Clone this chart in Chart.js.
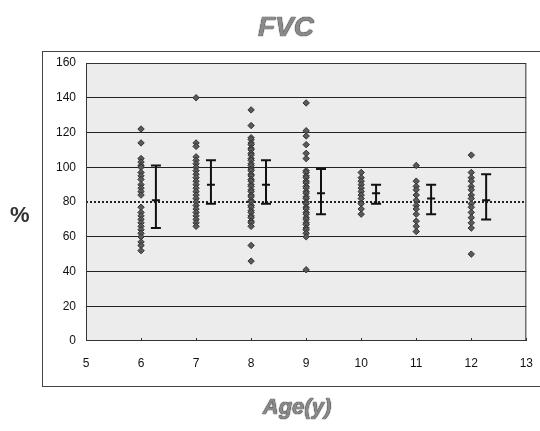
<!DOCTYPE html>
<html>
<head>
<meta charset="utf-8">
<script src="https://cdn.jsdelivr.net/npm/chart.js@4"></script>
<style>
    body { margin: 0; background: #fff; }
    #wrap { position: relative; width: 540px; height: 431px; overflow: hidden; }
    #frame { position: absolute; left: 42px; top: 51px; width: 520px; height: 334px; border: 1px solid #444; }
    canvas { position: absolute; left: 0; top: 0; }
    .lbl { position: absolute; font-family: "Liberation Sans", Arial, sans-serif; font-weight: bold; font-style: italic; color: #8a8a8a; text-shadow: 0 0 1px #222, 0 0 1px #222; }
    #title { left: 0; width: 572px; top: 11px; text-align: center; font-size: 28px; }
    #ylab { left: 10px; top: 202px; font-size: 22px; font-style: normal; color: #333; text-shadow: none; }
    #xlab { left: 0; width: 594px; top: 394px; text-align: center; font-size: 22px; }
</style>
</head>
<body>
<div id="wrap">
    <div id="frame"></div>
    <canvas id="chart" width="540" height="431"></canvas>
    <div class="lbl" id="title">FVC</div>
    <div class="lbl" id="ylab">%</div>
    <div class="lbl" id="xlab">Age(y)</div>
</div>
<script>
// ages and individual %predicted FVC values
const ages = [6, 7, 8, 9, 10, 11, 12];
const age6 = [122, 114, 105, 103, 101, 100, 97, 95, 93, 90, 88, 86, 84, 77, 74, 72, 70, 68, 66, 64, 62, 60, 57, 55, 52];
const age7 = [140, 114, 112, 106, 104, 102, 100, 98, 96, 94, 92, 90, 88, 86, 84, 82, 80, 78, 76, 74, 72, 70, 68, 66];
const age8 = [133, 124, 117, 116, 114, 113, 111, 110, 108, 107, 105, 104, 102, 101, 99, 98, 96, 95, 93, 92, 90, 89, 87, 86, 84, 83, 81, 80, 78, 77, 75, 74, 72, 71, 69, 68, 66, 55, 46];
const age9 = [137, 121, 118, 113, 108, 105, 98, 97, 95, 94, 92, 91, 89, 88, 86, 85, 83, 82, 80, 79, 77, 76, 74, 73, 71, 70, 68, 67, 65, 64, 62, 60, 41];
const age10 = [97, 94, 92, 90, 88, 86, 84, 82, 79, 76, 73];
const age11 = [101, 92, 89, 87, 84, 81, 78, 76, 73, 69, 66, 63];
const age12 = [107, 97, 94, 92, 89, 87, 84, 82, 79, 77, 74, 71, 68, 65, 50];

// mean and +/- SD bars, drawn slightly to the right of each age
const barOffset = 0.27;
const means = [81, 90, 90, 85, 85, 82, 81];
const lows = [65, 79, 79, 73, 79, 73, 70];
const highs = [101, 104, 104, 99, 90, 90, 96];

const refValue = 80;
const xTicks = [5, 13];
const yTicks = [0, 160];

const groups = [age6, age7, age8, age9, age10, age11, age12];

const scatterPoints = [];
groups.forEach((vals, i) => {
    vals.forEach(v => scatterPoints.push({ x: ages[i], y: v }));
});

const barPoints = [];
ages.forEach((a, i) => {
    barPoints.push({ x: a + barOffset, y: lows[i] });
    barPoints.push({ x: a + barOffset, y: highs[i] });
    barPoints.push({ x: a + barOffset, y: null });
});

const meanPoints = ages.map((a, i) => ({ x: a + barOffset, y: means[i] }));

const plotBackground = {
    id: 'plotBackground',
    beforeDraw(chart) {
        const { ctx, chartArea: a } = chart;
        ctx.save();
        ctx.fillStyle = '#ececec';
        ctx.fillRect(a.left, a.top, a.right - a.left, a.bottom - a.top);
        ctx.restore();
    },
    afterDraw(chart) {
        const { ctx, chartArea: a, scales } = chart;
        ctx.save();
        ctx.strokeStyle = '#333';
        ctx.lineWidth = 1;
        ctx.strokeRect(a.left + 0.5, a.top + 0.5, a.right - a.left - 1, a.bottom - a.top - 1);
        // small inward tick marks on the bottom axis
        scales.x.ticks.forEach(t => {
            const px = Math.round(scales.x.getPixelForValue(t.value)) + 0.5;
            ctx.beginPath();
            ctx.moveTo(px, a.bottom);
            ctx.lineTo(px, a.bottom - 3);
            ctx.stroke();
        });
        ctx.restore();
    }
};

const tickFont = { family: '"Liberation Sans Narrow", "Liberation Sans", sans-serif', size: 12 };

new Chart(document.getElementById('chart'), {
    type: 'scatter',
    data: {
        datasets: [
            {
                label: 'ref',
                data: [{ x: xTicks[0], y: refValue }, { x: xTicks[1], y: refValue }],
                showLine: true,
                borderColor: '#222',
                borderWidth: 2,
                borderDash: [2, 2],
                pointRadius: 0,
                order: 3
            },
            {
                label: 'FVC',
                data: scatterPoints,
                pointStyle: 'rectRot',
                pointRadius: 3.2,
                backgroundColor: '#5a5a5a',
                borderColor: '#333',
                borderWidth: 1,
                order: 2
            },
            {
                label: 'SD',
                data: barPoints,
                showLine: true,
                spanGaps: false,
                borderColor: '#111',
                borderWidth: 2,
                pointStyle: 'line',
                pointRadius: 5,
                pointBorderWidth: 2,
                pointBorderColor: '#111',
                order: 1
            },
            {
                label: 'mean',
                data: meanPoints,
                pointStyle: 'line',
                pointRadius: 4,
                pointBorderWidth: 2,
                pointBorderColor: '#111',
                order: 0
            }
        ]
    },
    options: {
        responsive: false,
        animation: false,
        layout: { padding: { left: 0, right: 13, top: 63, bottom: 0 } },
        plugins: {
            legend: { display: false },
            tooltip: { enabled: false }
        },
        scales: {
            x: {
                min: xTicks[0],
                max: xTicks[1],
                ticks: { stepSize: 1, color: '#111', font: tickFont, padding: 7 },
                grid: { display: false },
                border: { display: false },
                afterFit(scale) { scale.height = 90; }
            },
            y: {
                min: yTicks[0],
                max: yTicks[1],
                ticks: { stepSize: 20, color: '#111', font: tickFont, padding: 10 },
                grid: { color: '#222', lineWidth: ctx => (ctx.tick && (ctx.tick.value === refValue || ctx.tick.value === 0 || ctx.tick.value === 160) ? 0 : 1), drawTicks: false },
                border: { display: false },
                afterFit(scale) { scale.width = 86; }
            }
        }
    },
    plugins: [plotBackground]
});
</script>
</body>
</html>
